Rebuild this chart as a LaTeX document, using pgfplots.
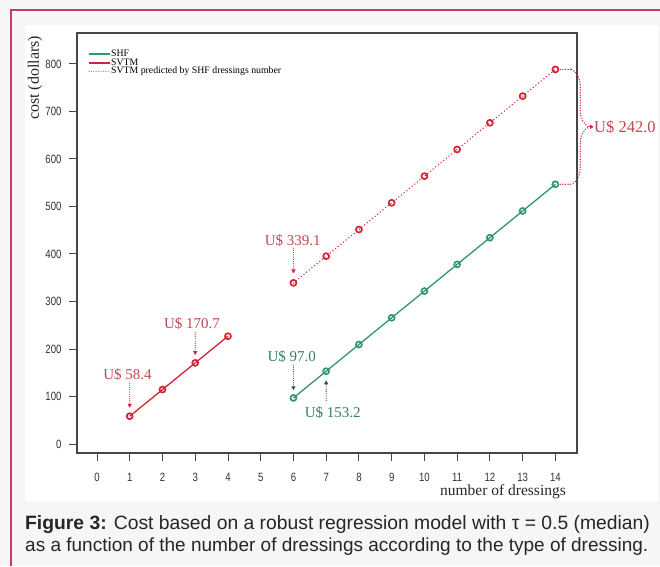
\documentclass[border=0pt]{standalone}
\usepackage{fontspec}
\setmainfont{Liberation Serif}
\newfontfamily\capfont{Liberation Sans}
\newfontfamily\ticksans[FakeStretch=0.8]{Liberation Sans}
\usepackage{pgfplots}
\pgfplotsset{compat=1.18}
\usetikzlibrary{arrows.meta,decorations.pathreplacing}
\definecolor{framec}{RGB}{200,60,100}
\definecolor{bgc}{RGB}{247,246,246}
\definecolor{myred}{RGB}{210,35,55}
\definecolor{mypink}{RGB}{225,90,110}
\definecolor{mygreen}{RGB}{50,150,110}
\definecolor{txtred}{RGB}{195,70,80}
\definecolor{txtgreen}{RGB}{55,125,105}
\definecolor{arrgreen}{RGB}{30,90,70}
\definecolor{arrred}{RGB}{200,40,60}
\definecolor{axgray}{RGB}{70,70,70}
\begin{document}
\begin{tikzpicture}
\useasboundingbox (0pt,0pt) rectangle (660pt,566pt);
\fill[bgc] (0pt,0pt) rectangle (660pt,566pt);
\fill[white] (25pt,65pt) rectangle (658pt,541pt);
\draw[framec, line width=2pt] (11pt,0pt) -- (11pt,556pt) -- (660pt,556pt);
\node[anchor=base west, inner sep=0pt, font=\capfont\fontsize{19.3}{22}\selectfont, text=black!85] at (25pt,37pt) {\textbf{Figure 3:} Cost based on a robust regression model with τ = 0.5 (median)};
\node[anchor=base west, inner sep=0pt, font=\capfont\fontsize{19}{22}\selectfont, text=black!85] at (25pt,15pt) {as a function of the number of dressings according to the type of dressing.};
\begin{axis}[at={(77pt,113pt)}, anchor=south west, width=500pt, height=420pt, scale only axis,
  xmin=-0.61, xmax=14.66, ymin=-19, ymax=865,
  clip=false,
  axis line style={axgray, line width=1.3pt},
  tick style={axgray, line width=0.9pt},
  tick align=outside, major tick length=8pt,
  xtick pos=bottom, ytick pos=left,
  xtick={0,...,14}, ytick={0,100,...,800},
  ticklabel style={font=\ticksans\fontsize{12}{12}\selectfont, text=black!80},
  /pgf/number format/assume math mode=true,
  x tick label style={yshift=-9pt},
  y tick label style={xshift=-4pt},
  xlabel={number of dressings},
  xlabel style={at={(axis description cs:0.852,-0.093)}, anchor=center, font=\fontsize{15.5}{16}\selectfont, text=black!85},
  ylabel={cost (dollars)},
  ylabel style={at={(axis description cs:-0.084,0.893)}, anchor=center, font=\fontsize{16}{16}\selectfont, text=black!85},
  legend style={at={(axis description cs:0,1)}, anchor=north west, xshift=11pt, yshift=-17pt, draw=none, fill=none, font=\fontsize{9.8}{9.8}\selectfont, row sep=0.6pt, inner sep=0pt, nodes={inner sep=0.5pt, text height=6pt, text depth=1pt}},
  legend cell align=left,
]
\addlegendimage{legend image code/.code={\draw[color=mygreen, line width=1.4pt] (0pt,0pt) -- (21pt,0pt);}}
\addlegendentry{SHF}
\addlegendimage{legend image code/.code={\draw[color=myred, line width=1.4pt] (0pt,0pt) -- (21pt,0pt);}}
\addlegendentry{SVTM}
\addlegendimage{legend image code/.code={\draw[color=mypink, line width=1.2pt, line cap=round, dash pattern=on 0pt off 2.4pt] (0pt,0pt) -- (21pt,0pt);}}
\addlegendentry{SVTM predicted by SHF dressings number}
\addplot[forget plot, color=mygreen, line width=1.3pt, mark=o, mark size=3pt, mark options={line width=1.7pt, solid}] coordinates {(6,97.0)(7,153.2)(8,209.4)(9,265.6)(10,321.8)(11,378.0)(12,434.2)(13,490.4)(14,546.6)};
\addplot[forget plot, color=myred, line width=1.3pt, mark=o, mark size=3pt, mark options={line width=1.7pt, solid}] coordinates {(1,58.4)(2,114.5)(3,170.7)(4,226.8)};
\addplot[forget plot, color=myred, line width=1.5pt, line cap=round, dash pattern=on 0pt off 3.4pt, mark=o, mark size=3pt, mark options={line width=1.7pt, solid}] coordinates {(6,339.1)(7,395.3)(8,451.4)(9,507.6)(10,563.7)(11,619.9)(12,676.0)(13,732.2)(14,788.3)};
% annotations
\node[text=txtred, font=\fontsize{15}{15}\selectfont] at (axis cs:0.93,145) {U\$ 58.4};
\draw[color=arrred, line width=1.2pt, line cap=round, dash pattern=on 0pt off 2.2pt, -{Triangle[length=4pt,width=4pt]}] (axis cs:1,128) -- (axis cs:1,76);
\node[text=txtred, font=\fontsize{15}{15}\selectfont] at (axis cs:2.9,254) {U\$ 170.7};
\draw[color=arrred, line width=1.2pt, line cap=round, dash pattern=on 0pt off 2.2pt, -{Triangle[length=4pt,width=4pt]}] (axis cs:3,235) -- (axis cs:3,187);
\node[text=txtred, font=\fontsize{15}{15}\selectfont] at (axis cs:5.98,428) {U\$ 339.1};
\draw[color=arrred, line width=1.2pt, line cap=round, dash pattern=on 0pt off 2.2pt, -{Triangle[length=4pt,width=4pt]}] (axis cs:6,412) -- (axis cs:6,359);
\node[text=txtgreen, font=\fontsize{15}{15}\selectfont] at (axis cs:5.95,183) {U\$ 97.0};
\draw[color=arrgreen, line width=1.2pt, line cap=round, dash pattern=on 0pt off 2.2pt, -{Triangle[length=4pt,width=4pt]}] (axis cs:6,166) -- (axis cs:6,113);
\node[text=txtgreen, font=\fontsize{15}{15}\selectfont] at (axis cs:7.2,67) {U\$ 153.2};
\draw[color=arrgreen, line width=1.2pt, line cap=round, dash pattern=on 0pt off 2.2pt, -{Triangle[length=4pt,width=4pt]}] (axis cs:7,92) -- (axis cs:7,134);
% brace
\draw[color=myred, line width=1.5pt, line cap=round, dash pattern=on 0pt off 2.6pt] (axis cs:14.15,788.3) -- (axis cs:14.5,788.3);
\draw[color=myred, line width=1.5pt, line cap=round, dash pattern=on 0pt off 2.6pt] (axis cs:14.15,546.6) -- (axis cs:14.5,546.6);
\draw[color=myred, line width=1.5pt, line cap=round, dash pattern=on 0pt off 2.6pt, decorate, decoration={brace, amplitude=17pt}] (axis cs:14.5,788.3) -- (axis cs:14.5,546.6);
\draw[color=myred, line width=1pt, -{Triangle[length=3.5pt,width=4pt]}] (axis cs:15.02,667.5) -- (axis cs:15.17,667.5);
\node[text=txtred, anchor=west, inner sep=0pt, font=\fontsize{16.5}{16.5}\selectfont] at (axis cs:15.18,667.5) {U\$ 242.0};
\end{axis}
\end{tikzpicture}
\end{document}
